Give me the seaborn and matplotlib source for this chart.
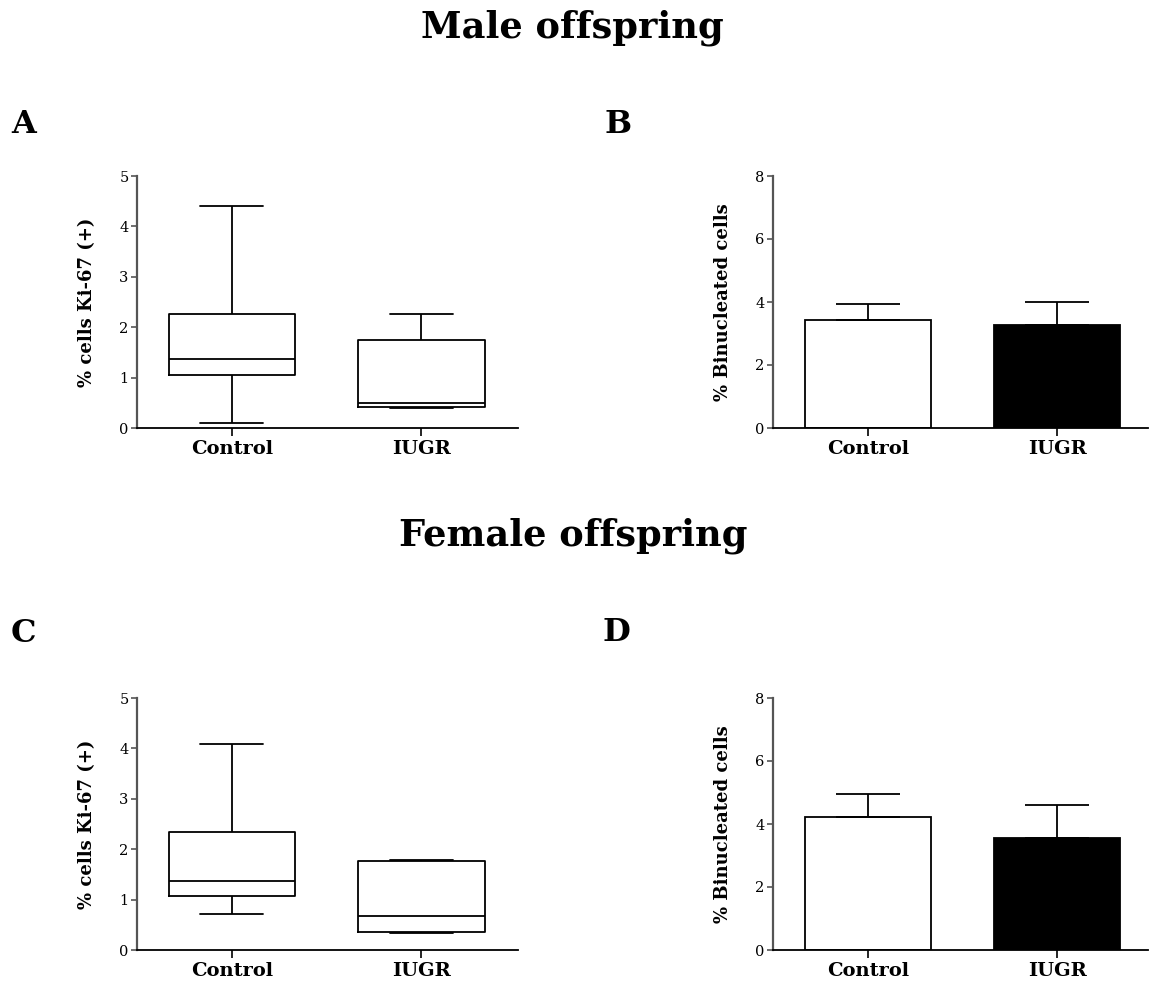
import numpy as np
import pandas as pd
import matplotlib
matplotlib.use("Agg")
import matplotlib.pyplot as plt
import seaborn as sns

# ---- data ----
groups = ["Control", "IUGR"]

# five-number summaries (min, Q1, median, Q3, max) for % cells Ki-67 (+)
ki67_male_control = [0.10, 1.05, 1.37, 2.27, 4.40]
ki67_male_iugr = [0.39, 0.41, 0.50, 1.74, 2.26]
ki67_female_control = [0.71, 1.08, 1.37, 2.34, 4.08]
ki67_female_iugr = [0.34, 0.36, 0.68, 1.76, 1.78]

# % binucleated cells: mean and upper error
bin_male_mean = [3.44, 3.28]
bin_male_err = [0.49, 0.71]
bin_female_mean = [4.22, 3.56]
bin_female_err = [0.72, 1.04]

ki67_label = "% cells Ki-67 (+)"
bin_label = "% Binucleated cells"
ki67_ticks = [0, 1, 2, 3, 4, 5]
bin_ticks = [0, 2, 4, 6, 8]

sns.set_style("ticks")
SERIF = ["DejaVu Serif"]
plt.rcParams["font.family"] = SERIF
plt.rcParams["text.color"] = "black"
plt.rcParams["axes.labelcolor"] = "black"
plt.rcParams["xtick.color"] = "black"
plt.rcParams["ytick.color"] = "black"

W, H = 1149, 984
fig = plt.figure(figsize=(W / 100, H / 100), dpi=100)


def px_axes(left, right, top, bottom):
    return fig.add_axes([left / W, 1 - bottom / H, (right - left) / W, (bottom - top) / H])


def style_axes(ax, ylabel, yticks):
    sns.despine(ax=ax)
    ax.spines["left"].set_color("#555555")
    ax.spines["left"].set_linewidth(1.6)
    ax.spines["bottom"].set_color("black")
    ax.spines["bottom"].set_linewidth(1.3)
    ax.set_ylim(yticks[0], yticks[-1])
    ax.set_yticks(yticks)
    ax.set_yticklabels([str(t) for t in yticks], fontsize=10.5, family=SERIF)
    ax.set_xticks([0, 1])
    ax.set_xticklabels(groups, fontsize=14, fontweight="bold", family=SERIF)
    ax.tick_params(axis="y", length=4, width=1.2, color="#555555",
                   labelcolor="black", pad=2)
    ax.tick_params(axis="x", length=6, width=1.2, color="black",
                   labelcolor="black", pad=3)
    ax.set_ylabel(ylabel, fontsize=13, fontweight="bold", family=SERIF,
                  labelpad=17, color="black")
    ax.set_xlabel("")


def draw_box(ax, control, iugr):
    df = pd.DataFrame({
        "group": [groups[0]] * len(control) + [groups[1]] * len(iugr),
        "value": control + iugr,
    })
    sns.boxplot(data=df, x="group", y="value", order=groups, whis=(0, 100),
                width=0.667, fill=False, color="black", linewidth=1.3,
                medianprops={"color": "black", "linewidth": 1.3},
                showfliers=False, ax=ax)
    ax.set_xlim(-0.5, 1.51)


def draw_bar(ax, means, errs):
    df = pd.DataFrame({"group": groups, "value": means})
    sns.barplot(data=df, x="group", y="value", order=groups, hue="group",
                palette=["white", "black"], edgecolor="black", linewidth=1.3,
                width=0.667, errorbar=None, legend=False, ax=ax)
    ax.errorbar([0, 1], means, yerr=[[0, 0], errs], fmt="none", ecolor="black",
                elinewidth=1.3, capsize=22.7, capthick=1.3, zorder=1)
    ax.set_xlim(-0.503, 1.48)


axA = px_axes(137, 518, 176, 428)
draw_box(axA, ki67_male_control, ki67_male_iugr)
style_axes(axA, ki67_label, ki67_ticks)

axB = px_axes(773, 1148, 176, 428)
draw_bar(axB, bin_male_mean, bin_male_err)
style_axes(axB, bin_label, bin_ticks)

axC = px_axes(137, 518, 698, 950)
draw_box(axC, ki67_female_control, ki67_female_iugr)
style_axes(axC, ki67_label, ki67_ticks)

axD = px_axes(773, 1148, 698, 950)
draw_bar(axD, bin_female_mean, bin_female_err)
style_axes(axD, bin_label, bin_ticks)

fig.text(572 / W, 1 - 38 / H, "Male offspring", ha="center", va="baseline",
         fontsize=26.5, fontweight="bold", family=SERIF, color="black")
fig.text(573 / W, 1 - 545 / H, "Female offspring", ha="center", va="baseline",
         fontsize=26.5, fontweight="bold", family=SERIF, color="black")

for lab, x, y in [("A", 11, 133), ("B", 604, 133), ("C", 11, 642), ("D", 603, 641)]:
    fig.text(x / W, 1 - y / H, lab, ha="left", va="baseline",
             fontsize=23, fontweight="bold", family=SERIF, color="black")

fig.savefig("out.png", dpi=100)
